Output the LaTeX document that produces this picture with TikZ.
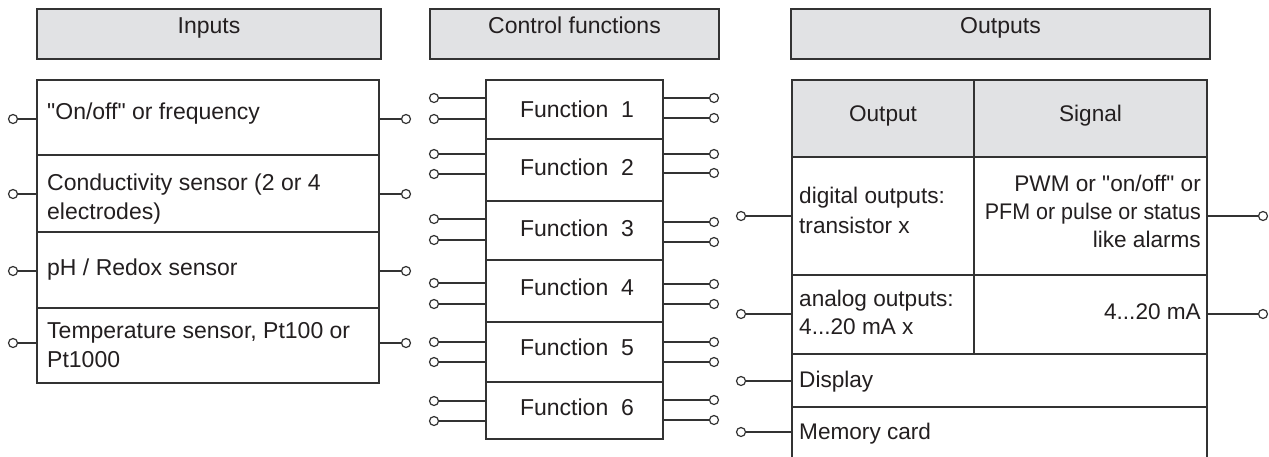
\documentclass[tikz,border=0pt]{standalone}
\usepackage{fontspec}
\setmainfont{Liberation Sans}
\newfontfamily\rawquotefont{Liberation Sans}
\usepackage{graphicx}
\definecolor{ln}{HTML}{333333}
\definecolor{hdr}{HTML}{E1E2E4}
\definecolor{tx}{HTML}{231F20}
\newcommand{\straightq}{{\rawquotefont\symbol{34}}}
\begin{document}
\begin{tikzpicture}[x=1pt,y=-1pt,
  box/.style={draw=ln, line width=1.6pt, inner sep=0pt, outer sep=0pt, anchor=north west},
  hbox/.style={box, fill=hdr},
  pin/.style={circle, draw=ln, line width=1.2pt, fill=white, inner sep=0pt, outer sep=0pt, minimum size=9pt},
  wire/.style={draw=ln, line width=1.4pt},
  lbl/.style={text=tx, inner sep=0pt, font=\fontsize{23}{29}\selectfont},
  olbl/.style={text=tx, inner sep=0pt, font=\fontsize{22.6}{28}\selectfont},
]
\clip (0,0) rectangle (1269,456);
\fill[white] (0,0) rectangle (1269,456);

% headers
\node[hbox, minimum width=344pt, minimum height=50pt] (hin) at (37,9) {};
\node[hbox, minimum width=289pt, minimum height=50pt] (hcf) at (430,9) {};
\node[hbox, minimum width=419pt, minimum height=50pt] (hout) at (791,9) {};
\node[lbl, anchor=base] (thin) at (hin.center |- 0,33) {Inputs};
\node[lbl, anchor=base] (thcf) at (hcf.center |- 0,33) {Control functions};
\node[lbl, anchor=base] (thout) at (hout.center |- 0,33) {Outputs};

% inputs
\node[box, minimum width=342pt, minimum height=75pt] (in1) at (37,80) {};
\node[box, minimum width=342pt, minimum height=77pt] (in2) at (37,155) {};
\node[box, minimum width=342pt, minimum height=76pt] (in3) at (37,232) {};
\node[box, minimum width=342pt, minimum height=75pt] (in4) at (37,308) {};
\node[lbl, anchor=base west] (tin1) at (47,119) {\straightq On/off\straightq{} or frequency};
\node[lbl, anchor=base west] (tin2a) at (47,190) {Conductivity sensor (2 or 4};
\node[lbl, anchor=base west] (tin2b) at (47,219) {electrodes)};
\node[lbl, anchor=base west] (tin3) at (47,275) {pH / Redox sensor};
\node[lbl, anchor=base west] (tin4a) at (47,338) {Temperature sensor, Pt100 or};
\node[lbl, anchor=base west] (tin4b) at (47,367) {Pt1000};

\foreach \n/\y in {1/119,2/194,3/271,4/343}{
  \node[pin] (inl\n) at (13,\y) {};
  \node[pin] (inr\n) at (406,\y) {};
  \draw[wire] (inl\n) -- (in\n.west |- inl\n);
  \draw[wire] (inr\n) -- (in\n.east |- inr\n);
}

% functions
\node[box, minimum width=177pt, minimum height=59pt] (f1) at (486,80) {};
\node[box, minimum width=177pt, minimum height=62pt] (f2) at (486,139) {};
\node[box, minimum width=177pt, minimum height=59pt] (f3) at (486,201) {};
\node[box, minimum width=177pt, minimum height=62pt] (f4) at (486,260) {};
\node[box, minimum width=177pt, minimum height=60pt] (f5) at (486,322) {};
\node[box, minimum width=177pt, minimum height=57pt] (f6) at (486,382) {};
\foreach \n/\y in {1/117,2/175,3/236,4/295,5/355,6/415}{
  \node[lbl, anchor=base] (tf\n) at (577,\y) {Function\ \ \n};
}
\foreach \n/\ya/\yb/\yc/\yd in {1/98/119/98/118,2/154/174/154/173,3/219/240/222/242,4/283/304/284/304,5/342/362/342/362,6/401/421/400/420}{
  \node[pin] (fla\n) at (434,\ya) {};
  \node[pin] (flb\n) at (434,\yb) {};
  \node[pin] (fra\n) at (714,\yc) {};
  \node[pin] (frb\n) at (714,\yd) {};
  \draw[wire] (fla\n) -- (f\n.west |- fla\n);
  \draw[wire] (flb\n) -- (f\n.west |- flb\n);
  \draw[wire] (fra\n) -- (f\n.east |- fra\n);
  \draw[wire] (frb\n) -- (f\n.east |- frb\n);
}

% outputs table
\node[hbox, minimum width=182pt, minimum height=77pt] (oh1) at (792,80) {};
\node[hbox, minimum width=233pt, minimum height=77pt] (oh2) at (974,80) {};
\node[box, minimum width=182pt, minimum height=118pt] (od1) at (792,157) {};
\node[box, minimum width=233pt, minimum height=118pt] (od2) at (974,157) {};
\node[box, minimum width=182pt, minimum height=79pt] (oa1) at (792,275) {};
\node[box, minimum width=233pt, minimum height=79pt] (oa2) at (974,275) {};
\node[box, minimum width=415pt, minimum height=53pt] (odisp) at (792,354) {};
\node[box, minimum width=415pt, minimum height=70pt] (omem) at (792,407) {};

\node[olbl, anchor=base] (toh1) at (oh1.center |- 0,121) {Output};
\node[olbl, anchor=base] (toh2) at (oh2.center |- 0,121) {Signal};
\node[olbl, anchor=base west] (tod1a) at (799,203) {digital outputs:};
\node[olbl, anchor=base west] (tod1b) at (799,233) {transistor x};
\node[olbl, anchor=base east] (tod2a) at (1201,191) {PWM or \straightq on/off\straightq{} or};
\node[olbl, anchor=base east] (tod2b) at (1201,219) {\scalebox{0.95}[1]{PFM or pulse or status}};
\node[olbl, anchor=base east] (tod2c) at (1201,247) {like alarms};
\node[olbl, anchor=base west] (toa1a) at (799,306) {analog outputs:};
\node[olbl, anchor=base west] (toa1b) at (799,334) {4...20 mA x};
\node[olbl, anchor=base east] (toa2) at (1201,319) {4...20 mA};
\node[olbl, anchor=base west] (todisp) at (799,387) {Display};
\node[olbl, anchor=base west] (tomem) at (799,439) {Memory card};

\node[pin] (ol1) at (741,216) {};
\node[pin] (ol2) at (741,314) {};
\node[pin] (ol3) at (741,381) {};
\node[pin] (ol4) at (741,432) {};
\node[pin] (or1) at (1263,216) {};
\node[pin] (or2) at (1263,314) {};
\draw[wire] (ol1) -- (od1.west |- ol1);
\draw[wire] (ol2) -- (oa1.west |- ol2);
\draw[wire] (ol3) -- (odisp.west |- ol3);
\draw[wire] (ol4) -- (omem.west |- ol4);
\draw[wire] (or1) -- (od2.east |- or1);
\draw[wire] (or2) -- (oa2.east |- or2);
\end{tikzpicture}
\end{document}
